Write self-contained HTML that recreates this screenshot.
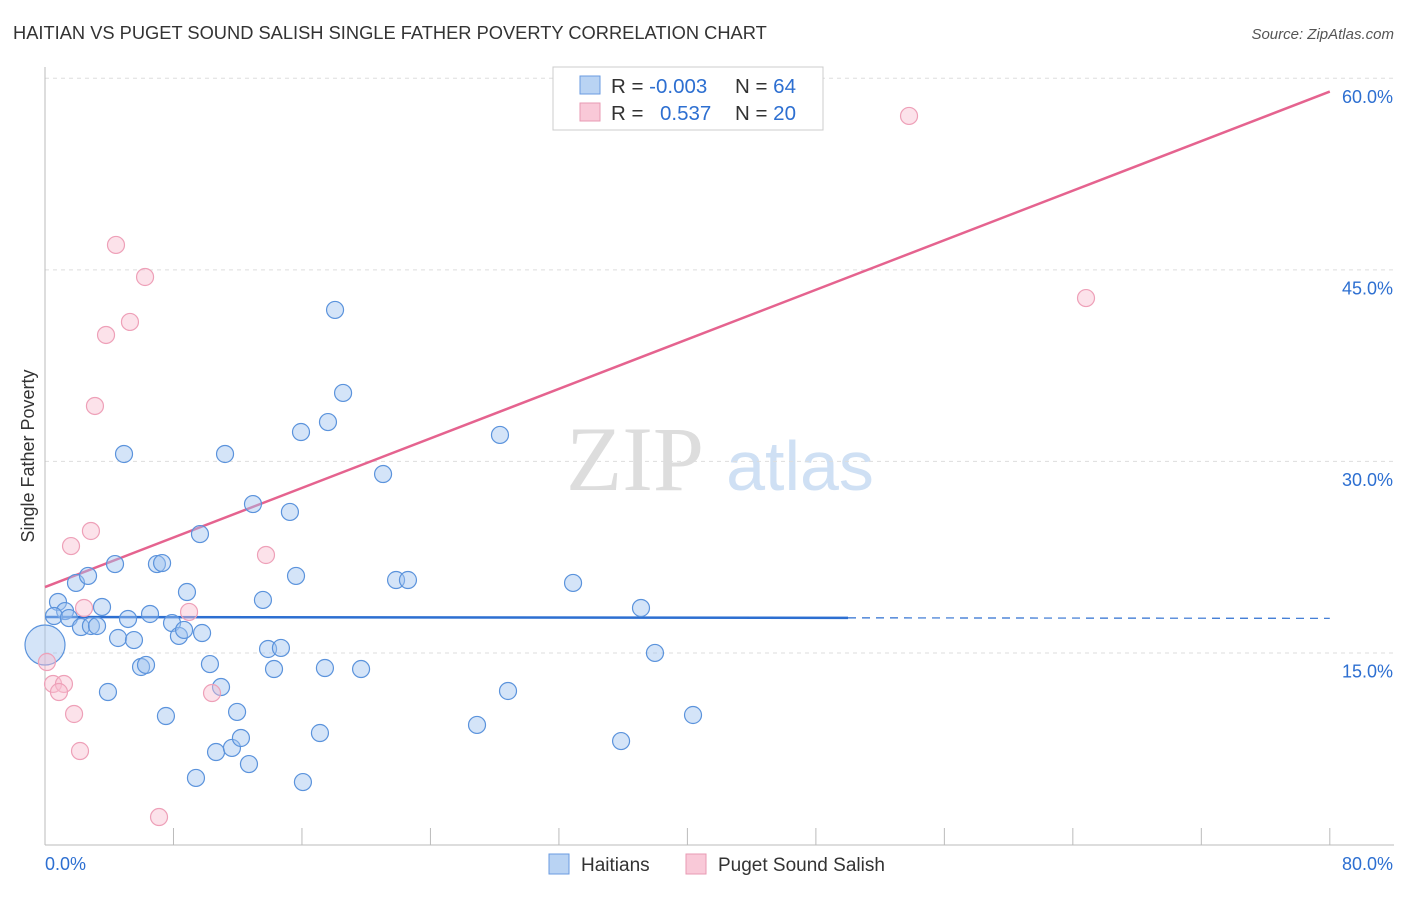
<!DOCTYPE html>
<html><head><meta charset="utf-8"><style>
body{margin:0;background:#fff;font-family:"Liberation Sans",sans-serif;}
</style></head><body>
<svg id="chart" width="1406" height="892" xmlns="http://www.w3.org/2000/svg">
<text x="13" y="39" font-size="18.3" fill="#333">HAITIAN VS PUGET SOUND SALISH SINGLE FATHER POVERTY CORRELATION CHART</text>
<text x="1394" y="39" font-size="15" fill="#555" font-style="italic" text-anchor="end">Source: ZipAtlas.com</text>
<g>
<text x="635" y="490" font-size="92" fill="#ddd" font-family="Liberation Serif,serif" text-anchor="middle">ZIP</text>
<text x="800" y="490" font-size="70" fill="#cfe0f4" text-anchor="middle">atlas</text>
</g>
<g id="grid"></g><g id="axes"></g><g id="trend"></g><g id="pts"></g>
<text transform="translate(34,456) rotate(-90)" font-size="18" fill="#333" text-anchor="middle">Single Father Poverty</text>
<g>
<rect x="553" y="67" width="270" height="63" fill="#fff" stroke="#ccc"/>
<rect x="580" y="76" width="20" height="18" fill="#b9d3f3" stroke="#6a9be0"/>
<rect x="580" y="103" width="20" height="18" fill="#f9c9d8" stroke="#e89ab3"/>
<text x="611" y="93" font-size="20.5" fill="#333">R = <tspan fill="#2d6fd1">-0.003</tspan><tspan x="735">N = </tspan><tspan fill="#2d6fd1">64</tspan></text>
<text x="611" y="120" font-size="20.5" fill="#333">R = <tspan x="660" fill="#2d6fd1">0.537</tspan><tspan x="735">N = </tspan><tspan fill="#2d6fd1">20</tspan></text>
</g>
<g>
<rect x="549" y="854" width="20" height="20" fill="#b9d3f3" stroke="#6a9be0"/>
<text x="581" y="871" font-size="19" fill="#333">Haitians</text>
<rect x="686" y="854" width="20" height="20" fill="#f9c9d8" stroke="#e89ab3"/>
<text x="718" y="871" font-size="19" fill="#333">Puget Sound Salish</text>
</g>
</svg>
<script>
const blueX=[0.81,1.25,0.56,1.49,1.93,2.68,2.24,2.86,3.24,3.55,4.36,3.92,4.55,4.92,5.17,5.54,5.98,6.29,6.54,6.97,7.29,7.53,7.91,8.34,8.66,8.84,9.40,9.65,9.78,10.27,10.65,10.96,11.21,11.64,11.96,12.20,12.70,12.95,13.57,13.89,14.26,14.69,15.25,15.63,15.94,16.06,17.12,17.43,17.62,18.06,18.56,19.68,21.05,21.86,22.60,26.90,28.33,28.83,32.88,35.87,37.11,37.98,40.35,0.0];
const blueY=[19.03,18.32,17.93,17.77,20.52,21.07,17.07,17.15,17.15,18.64,22.0,11.98,16.21,30.62,17.70,16.05,13.94,14.10,18.09,22.0,22.08,10.10,17.38,16.37,16.84,19.81,5.25,24.35,16.60,14.17,7.28,12.37,30.62,7.60,10.42,8.38,6.34,26.70,19.19,15.35,13.78,15.43,26.08,21.07,32.34,4.93,8.77,13.86,33.12,41.9,35.4,13.78,29.05,20.75,20.75,9.40,32.11,12.06,20.52,8.14,18.56,15.04,10.18,15.66];
const pinkX=[53.80,64.82,4.42,6.23,5.29,3.80,3.11,2.86,1.62,13.76,2.43,8.97,0.12,0.50,1.18,0.87,10.40,1.81,2.18,7.10];
const pinkY=[57.09,42.83,46.99,44.48,40.96,39.94,34.38,24.59,23.41,22.71,18.56,18.25,14.33,12.61,12.61,11.98,11.90,10.26,7.36,2.19];
const yTicks=[15,30,45,60];
const blueTrend=[17.85,17.75];
const pinkTrend=[20.2,59.0];
const NS='http://www.w3.org/2000/svg';
const xs=v=>45+v*16.06, ys=v=>845-v*12.77;
function mk(tag,attrs,parent){const e=document.createElementNS(NS,tag);for(const k in attrs)e.setAttribute(k,attrs[k]);document.getElementById(parent).appendChild(e);return e;}
yTicks.forEach(t=>{
 const l=mk('line',{x1:45,x2:1394,y1:ys(t)-0.5,y2:ys(t)-0.5,stroke:'#ddd','stroke-dasharray':'4,4'},'grid');
 
 
 const tx=mk('text',{x:1393,y:ys(t)+24,'font-size':18,fill:'#2d6fd1','text-anchor':'end'},'grid');
 tx.textContent=t.toFixed(1)+'%';
 
 
});
let a=mk('line',{x1:45,x2:45,y1:67,y2:845,stroke:'#bbb'},'axes');


a=mk('line',{x1:45,x2:1394,y1:845,y2:845,stroke:'#bbb'},'axes');


for(let i=1;i<=10;i++){const t=mk('line',{x1:xs(i*8),x2:xs(i*8),y1:828,y2:845,stroke:'#bbb'},'axes');
 
 }
[['0.0%',45,'start'],['80.0%',1393,'end']].forEach(d=>{const t=mk('text',{x:d[1],y:870,'font-size':18,fill:'#2d6fd1','text-anchor':d[2]},'axes');t.textContent=d[0];
 
 });
let tl=mk('line',{x1:xs(0),y1:ys(blueTrend[0]),x2:xs(50),y2:ys(blueTrend[0]+(blueTrend[1]-blueTrend[0])*50/80),stroke:'#2d6fd1','stroke-width':2.5},'trend');


tl=mk('line',{x1:xs(50),y1:ys(blueTrend[0]+(blueTrend[1]-blueTrend[0])*50/80),x2:xs(80),y2:ys(blueTrend[1]),stroke:'#2d6fd1','stroke-width':1.2,'stroke-dasharray':'8,6'},'trend');


tl=mk('line',{x1:xs(0),y1:ys(pinkTrend[0]),x2:xs(80),y2:ys(pinkTrend[1]),stroke:'#e5638f','stroke-width':2.5},'trend');


blueX.forEach((x,i)=>{const c=mk('circle',{cx:xs(x),cy:ys(blueY[i]),r:i===blueX.length-1?20:8.5,fill:'rgba(160,196,240,0.45)',stroke:'#5b93dc','stroke-width':1.2},'pts');
 
 });
pinkX.forEach((x,i)=>{const c=mk('circle',{cx:xs(x),cy:ys(pinkY[i]),r:8.5,fill:'rgba(248,190,208,0.45)',stroke:'#eea0b8','stroke-width':1.2},'pts');
 
 });
</script>
</body></html>
